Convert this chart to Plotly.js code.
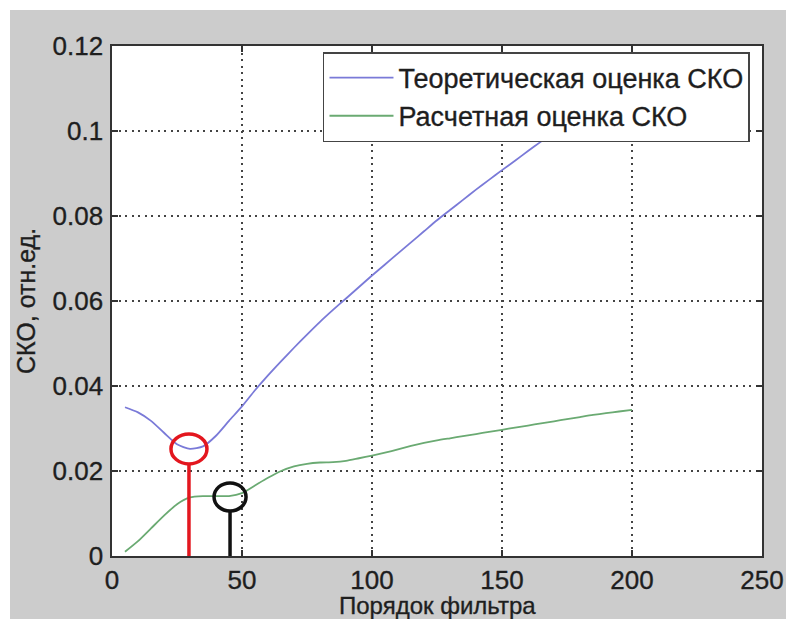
<!DOCTYPE html>
<html>
<head>
<meta charset="utf-8">
<script src="https://cdn.plot.ly/plotly-3.0.1.min.js"></script>
<style>
  html, body { margin: 0; padding: 0; background: #ffffff; }
  #chart { position: absolute; left: 10px; top: 10px; width: 776px; height: 609px; }
  #chart text { paint-order: stroke; stroke: #2a2a2a; stroke-width: 0.35px; }
</style>
</head>
<body>
<div id="chart"></div>
<script>
// ---- data ----
const filterOrder = [5, 10, 15, 20, 25, 30, 35, 40, 45, 50, 55, 60, 65, 70, 75, 80, 85, 90, 95, 100,
  105, 110, 115, 120, 125, 130, 135, 140, 145, 150, 155, 160, 165, 170, 175, 180, 185, 190, 195, 200];

const theoreticalSKO = [0.0350, 0.0338, 0.0318, 0.0290, 0.0263, 0.0252, 0.0258, 0.0283, 0.0318, 0.0352,
  0.0390, 0.0425, 0.0458, 0.0490, 0.0521, 0.0551, 0.0579, 0.0606, 0.0633, 0.0660,
  0.0686, 0.0712, 0.0738, 0.0764, 0.0790, 0.0814, 0.0838, 0.0862, 0.0885, 0.0908,
  0.0930, 0.0953, 0.0975, 0.0997, 0.1019, 0.1040, 0.1061, 0.1082, 0.1103, 0.1124];

const calculatedSKO = [0.0010, 0.0035, 0.0065, 0.0095, 0.0122, 0.0138, 0.0141, 0.0141, 0.0141, 0.0148,
  0.0166, 0.0184, 0.0200, 0.0211, 0.0217, 0.0220, 0.0221, 0.0224, 0.0230, 0.0236,
  0.0243, 0.0251, 0.0259, 0.0266, 0.0272, 0.0277, 0.0282, 0.0287, 0.0292, 0.0297,
  0.0302, 0.0307, 0.0312, 0.0317, 0.0322, 0.0327, 0.0332, 0.0336, 0.0340, 0.0344];

const seriesNames = ['Теоретическая оценка СКО', 'Расчетная оценка СКО'];

const xTickVals = [0, 50, 100, 150, 200, 250];
const xTickLabels = ['0', '50', '100', '150', '200', '250'];
const yTickVals = [0, 0.02, 0.04, 0.06, 0.08, 0.1, 0.12];
const yTickLabels = ['0', '0.02', '0.04', '0.06', '0.08', '0.1', '0.12'];

const xTitle = 'Порядок фильтра';
const yTitle = 'СКО, отн.ед.';

// hand-drawn markers: filter order and SKO value they circle
const markOrder = [29.6, 45.4];
const markValue = [0.0252, 0.0139];
const markColor = ['#e3161e', '#111111'];

// ---- layout constants ----
const FONT = 'Liberation Sans, Arial, sans-serif';
const TXT = '#1e1e1e';
const plotH = 510;
const yMax = 0.12;
const radX = [18, 16];
const radY = [15, 14];

const shapes = [];
for (let i = 0; i < markOrder.length; i++) {
  const centerPx = markValue[i] / yMax * plotH;
  shapes.push({
    type: 'line', layer: 'above',
    xref: 'x', x0: markOrder[i], x1: markOrder[i],
    yref: 'y', ysizemode: 'pixel', yanchor: 0, y0: 0, y1: centerPx - radY[i],
    line: { color: markColor[i], width: 3.5 }
  });
  shapes.push({
    type: 'circle', layer: 'above',
    xref: 'x', xsizemode: 'pixel', xanchor: markOrder[i], x0: -radX[i], x1: radX[i],
    yref: 'y', ysizemode: 'pixel', yanchor: markValue[i], y0: -radY[i], y1: radY[i],
    line: { color: markColor[i], width: 3.5 }
  });
}

const traces = [
  {
    x: filterOrder, y: theoreticalSKO, name: seriesNames[0], legendgroup: 'a',
    type: 'scatter', mode: 'lines', line: { color: '#7a7ad8', width: 1.8, shape: 'spline', smoothing: 0.6 }
  },
  {
    x: filterOrder, y: calculatedSKO, name: seriesNames[1], legendgroup: 'b',
    type: 'scatter', mode: 'lines', line: { color: '#6aaa72', width: 1.8, shape: 'spline', smoothing: 0.6 }
  }
];

const axisCommon = {
  showline: true, linecolor: '#333333', linewidth: 1.6, mirror: 'ticks',
  ticks: 'inside', ticklen: 6, tickwidth: 1.5, tickcolor: '#333333',
  showgrid: true, gridcolor: '#444444', gridwidth: 1.5, griddash: '2px,4.5px',
  zeroline: false, tickfont: { family: FONT, size: 26, color: TXT }
};

const layout = {
  width: 776, height: 609,
  paper_bgcolor: '#cccccc', plot_bgcolor: '#ffffff',
  margin: { l: 102, r: 24, t: 36, b: 63 },
  font: { family: FONT, color: TXT },
  showlegend: true,
  xaxis: Object.assign({}, axisCommon, {
    range: [0, 250], tickmode: 'array', tickvals: xTickVals, ticktext: xTickLabels
  }),
  yaxis: Object.assign({}, axisCommon, {
    range: [0, yMax], tickmode: 'array', tickvals: yTickVals, ticktext: yTickLabels,
    ticklabelstandoff: 2,
    title: { text: yTitle, font: { family: FONT, size: 25, color: TXT }, standoff: 10 }
  }),
  annotations: [{
    text: xTitle, xref: 'paper', yref: 'paper', x: 0.5, y: 0,
    xanchor: 'center', yanchor: 'top', yshift: -34, showarrow: false,
    font: { family: FONT, size: 24, color: TXT }
  }],
  legend: {
    x: 0.3246, y: 0.988, xanchor: 'left', yanchor: 'top',
    bgcolor: '#ffffff', bordercolor: '#444444', borderwidth: 1.5,
    font: { family: FONT, size: 27, color: TXT },
    itemwidth: 64, tracegroupgap: 0, traceorder: 'normal'
  },
  shapes: shapes
};

Plotly.newPlot('chart', traces, layout, { displayModeBar: false, staticPlot: true });
</script>
</body>
</html>
